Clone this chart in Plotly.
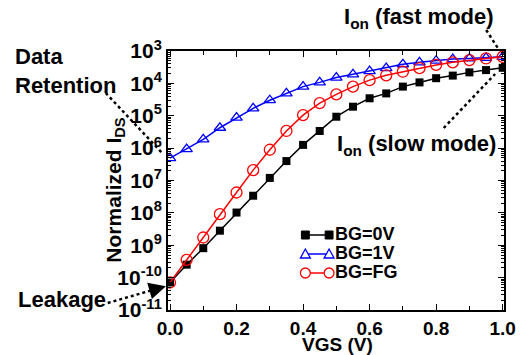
import plotly.graph_objects as go

vgs = [0.00, 0.05, 0.10, 0.15, 0.20, 0.25, 0.30, 0.35, 0.40, 0.45, 0.50,
       0.55, 0.60, 0.65, 0.70, 0.75, 0.80, 0.85, 0.90, 0.95, 1.00]

log_bg0 = [-10.15, -9.60, -9.09, -8.55, -7.99, -7.47, -6.92, -6.40, -5.90, -5.47, -5.03,
           -4.72, -4.46, -4.31, -4.10, -3.97, -3.84, -3.76, -3.66, -3.59, -3.52]
log_bg1 = [-6.31, -6.03, -5.73, -5.37, -5.06, -4.77, -4.52, -4.31, -4.10, -3.97, -3.82,
           -3.72, -3.62, -3.53, -3.41, -3.35, -3.30, -3.25, -3.23, -3.21, -3.18]
log_bgfg = [-10.15, -9.45, -8.76, -8.04, -7.37, -6.68, -6.05, -5.47, -4.98, -4.61, -4.34,
            -4.10, -3.90, -3.75, -3.64, -3.53, -3.43, -3.35, -3.28, -3.23, -3.18]

series_names = ["BG=0V", "BG=1V", "BG=FG"]
series_colors = ["black", "#0000ff", "#ff0000"]

ytick_vals = [1e-3, 1e-4, 1e-5, 1e-6, 1e-7, 1e-8, 1e-9, 1e-10, 1e-11]
ytick_text = ["10<sup>3</sup>", "10<sup>4</sup>", "10<sup>5</sup>", "10<sup>6</sup>",
              "10<sup>7</sup>", "10<sup>8</sup>", "10<sup>9</sup>", "10<sup>-10</sup>",
              "10<sup>-11</sup>"]
xtick_vals = [0.0, 0.2, 0.4, 0.6, 0.8, 1.0]
xtick_text = ["0.0", "0.2", "0.4", "0.6", "0.8", "1.0"]

FONT = "Liberation Sans, Arial, sans-serif"

fig = go.Figure()
fig.add_trace(go.Scatter(x=vgs, y=[10 ** v for v in log_bg0], name=series_names[0],
                         mode="lines+markers", line=dict(color=series_colors[0], width=1.5),
                         marker=dict(symbol="square", size=8, color=series_colors[0])))
fig.add_trace(go.Scatter(x=vgs, y=[10 ** v for v in log_bg1], name=series_names[1],
                         mode="lines+markers", line=dict(color=series_colors[1], width=1.5),
                         marker=dict(symbol="triangle-up-open", size=10, color=series_colors[1],
                                     line=dict(width=1.3))))
fig.add_trace(go.Scatter(x=vgs, y=[10 ** v for v in log_bgfg], name=series_names[2],
                         mode="lines+markers", line=dict(color=series_colors[2], width=1.5),
                         marker=dict(symbol="circle-open", size=11, color=series_colors[2],
                                     line=dict(width=1.3))))

L, R, T, B = 168, 508, 51, 310


def px(xp):
    return (xp - L) / (R - L)


def py(yp):
    return (B - yp) / (B - T)


# dotted arrow shafts + heads
arrows = [
    ((105, 93), (163, 154)),
    ((107, 303), (163, 287)),
    ((490, 30), (503, 50)),
    ((447, 128), (499, 74)),
]
for (x0, y0), (x1, y1) in arrows:
    fig.add_shape(type="line", xref="paper", yref="paper",
                  x0=px(x0), y0=py(y0), x1=px(x1), y1=py(y1),
                  line=dict(color="black", width=2.5, dash="dot"))
    dx, dy = x1 - x0, y1 - y0
    n = (dx * dx + dy * dy) ** 0.5
    fig.add_annotation(xref="paper", yref="paper", x=px(x1 + 3 * dx / n), y=py(y1 + 3 * dy / n),
                       ax=-dx / n * 6, ay=-dy / n * 6, text="", showarrow=True,
                       arrowhead=2, arrowsize=1.7, arrowwidth=2, arrowcolor="black")

texts = [
    ("<b>Data</b>", 11, 57, "left"),
    ("<b>Retention</b>", 11, 85, "left"),
    ("<b>Leakage</b>", 14, 299, "left"),
    ("<b>I<sub>on</sub> (fast mode)</b>", 500, 18, "right"),
    ("<b>I<sub>on</sub> (slow mode)</b>", 502, 145, "right"),
]
for t, xx, yy, al in texts:
    fig.add_annotation(xref="paper", yref="paper", x=px(xx), y=py(yy), text=t,
                       showarrow=False, xanchor=al, yanchor="middle",
                       font=dict(family=FONT, size=22, color="black"))

# axis titles
fig.add_annotation(xref="paper", yref="paper", x=px(114), y=py(190),
                   text="<b>Normalized I<sub>DS</sub></b>", textangle=-90, showarrow=False,
                   xanchor="center", yanchor="middle", font=dict(family=FONT, size=21, color="black"))
fig.add_annotation(xref="paper", yref="paper", x=px(340), y=py(344),
                   text="<b>VGS (V)</b>", showarrow=False,
                   xanchor="center", yanchor="middle", font=dict(family=FONT, size=19, color="black"))

# legend drawn as a key
leg_x0, leg_x1 = 307, 331
leg_rows = [235, 254, 273]
for name, col, yy, sym in zip(series_names, series_colors, leg_rows, ["square", "triangle", "circle"]):
    fig.add_shape(type="line", xref="paper", yref="paper", x0=px(leg_x0), x1=px(leg_x1),
                  y0=py(yy), y1=py(yy), line=dict(color=col, width=1.5))
    for cx in (leg_x0, leg_x1):
        if sym == "square":
            fig.add_shape(type="rect", xref="paper", yref="paper",
                          x0=px(cx - 4), x1=px(cx + 4), y0=py(yy + 4), y1=py(yy - 4),
                          fillcolor=col, line=dict(color=col, width=1))
        elif sym == "triangle":
            path = "M {} {} L {} {} L {} {} Z".format(px(cx - 5), py(yy + 4), px(cx + 5), py(yy + 4),
                                                    px(cx), py(yy - 5))
            fig.add_shape(type="path", xref="paper", yref="paper", path=path,
                          fillcolor="white", line=dict(color=col, width=1.3))
        else:
            fig.add_shape(type="circle", xref="paper", yref="paper",
                          x0=px(cx - 5), x1=px(cx + 5), y0=py(yy + 5), y1=py(yy - 5),
                          fillcolor="white", line=dict(color=col, width=1.3))
    fig.add_annotation(xref="paper", yref="paper", x=px(335), y=py(yy - 1), text="<b>" + name + "</b>",
                       showarrow=False, xanchor="left", yanchor="middle",
                       font=dict(family=FONT, size=18, color="black"))

fig.update_layout(
    width=528, height=355,
    margin=dict(l=L, r=528 - R, t=T, b=355 - B),
    paper_bgcolor="white", plot_bgcolor="white",
    font=dict(family=FONT, size=20, color="black"),
    showlegend=False,
    xaxis=dict(range=[-0.006, 1.004], tickvals=xtick_vals,
               ticktext=["<b>" + t + "</b>" for t in xtick_text],
               ticks="inside", ticklen=6, tickwidth=1.2, tickcolor="black",
               showline=True, linecolor="black", linewidth=1.8, mirror="ticks",
               showgrid=False, zeroline=False, ticklabelstandoff=0,
               minor=dict(dtick=0.1, tick0=0, ticks="inside", ticklen=4, tickcolor="black", showgrid=False),
               tickfont=dict(size=19)),
    yaxis=dict(type="log", range=[-11, -3], tickvals=ytick_vals,
               ticktext=["<b>" + t + "</b>" for t in ytick_text],
               ticks="inside", ticklen=6, tickwidth=1.2, tickcolor="black",
               showline=True, linecolor="black", linewidth=1.8, mirror="ticks",
               showgrid=False, zeroline=False,
               minor=dict(dtick="D1", ticks="inside", ticklen=3, tickcolor="black", showgrid=False),
               tickfont=dict(size=21)),
)

fig.write_html("out.html", config={"displayModeBar": False},
               post_script="document.body.style.margin='0';document.body.style.padding='0';")
